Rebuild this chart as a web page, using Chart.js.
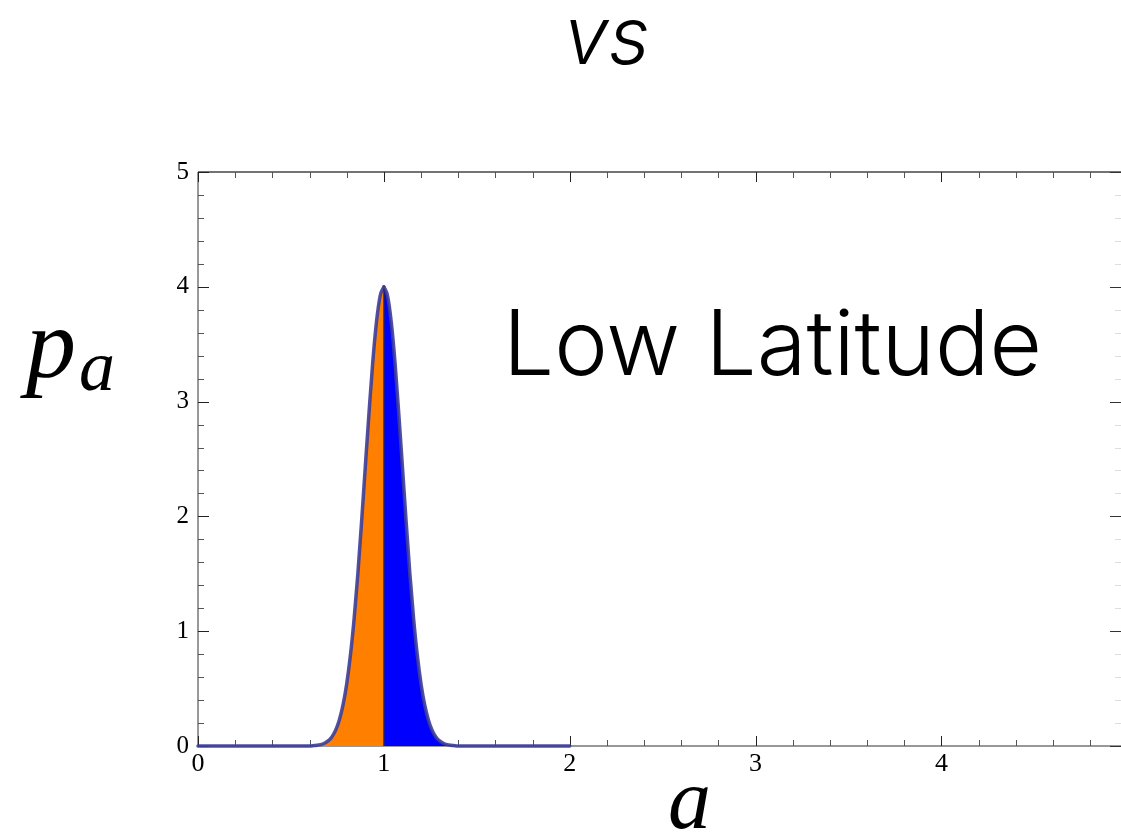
<!DOCTYPE html>
<html>
<head>
<meta charset="utf-8">
<script src="https://cdn.jsdelivr.net/npm/chart.js@4.4.0/dist/chart.umd.min.js"></script>
<style>
  html, body { margin: 0; padding: 0; background: #fff; }
  #wrap { width: 1121px; height: 834px; position: relative; }
</style>
</head>
<body>
<div id="wrap"><canvas id="c" width="1121" height="834"></canvas></div>
<script>
// ---- data ----
const aValues = [0.00, 0.50, 0.60, 0.62, 0.64, 0.66, 0.68, 0.70, 0.72, 0.74, 0.76, 0.78, 0.80,
                 0.82, 0.84, 0.86, 0.88, 0.90, 0.92, 0.94, 0.96, 0.98, 1.00,
                 1.02, 1.04, 1.06, 1.08, 1.10, 1.12, 1.14, 1.16, 1.18, 1.20,
                 1.22, 1.24, 1.26, 1.28, 1.30, 1.32, 1.34, 1.36, 1.38, 1.40, 1.50, 2.00];
const pValues = [0.000, 0.000, 0.001, 0.003, 0.006, 0.012, 0.024, 0.044, 0.079, 0.136, 0.225, 0.356, 0.541,
                 0.79, 1.11, 1.50, 1.95, 2.43, 2.90, 3.34, 3.69, 3.92, 4.00,
                 3.92, 3.69, 3.34, 2.90, 2.43, 1.95, 1.50, 1.11, 0.79, 0.541,
                 0.356, 0.225, 0.136, 0.079, 0.044, 0.024, 0.012, 0.006, 0.003, 0.001, 0.000, 0.000];
const splitAt = 1.0;
const xTickLabels = ['0', '1', '2', '3', '4'];
const yTickLabels = ['0', '1', '2', '3', '4', '5'];
const titleText = 'vs';
const annotationText = 'Low Latitude';
const xAxisTitle = 'a';
const yAxisTitleMain = 'p';
const yAxisTitleSub = 'a';

const leftPts = [], rightPts = [];
aValues.forEach((a, i) => {
  if (a <= splitAt) leftPts.push({x: a, y: pValues[i]});
  if (a >= splitAt) rightPts.push({x: a, y: pValues[i]});
});
const peakAtSplit = pValues[aValues.indexOf(splitAt)];

const LINE = 'rgba(61,61,153,0.9)';

const decor = {
  id: 'decor',
  beforeDatasetsDraw(chart) {
    const {ctx, chartArea: ca, scales: {x, y}} = chart;
    ctx.save();
    ctx.strokeStyle = '#444';
    ctx.lineWidth = 1.5;
    ctx.beginPath();
    ctx.moveTo(ca.left, ca.top); ctx.lineTo(ca.right + 3, ca.top);
    ctx.stroke();
    ctx.strokeStyle = '#777';
    ctx.beginPath();
    ctx.moveTo(ca.left, ca.bottom); ctx.lineTo(ca.right + 3, ca.bottom);
    ctx.moveTo(ca.left, ca.bottom); ctx.lineTo(ca.left, ca.top);
    ctx.stroke();
    ctx.lineWidth = 1;
    for (let k = 0; k <= 25; k++) {
      const v = k * 0.2;
      if (v > x.max + 1e-9) break;
      const px = Math.round(x.getPixelForValue(v)) + 0.5;
      const major = k % 5 === 0;
      const len = major ? 10 : 6;
      ctx.strokeStyle = major ? '#222' : '#555';
      ctx.beginPath();
      ctx.moveTo(px, ca.bottom); ctx.lineTo(px, ca.bottom - len);
      ctx.moveTo(px, ca.top); ctx.lineTo(px, ca.top + len);
      ctx.stroke();
    }
    for (let k = 0; k <= 25; k++) {
      const v = k * 0.2;
      const py = Math.round(y.getPixelForValue(v)) + 0.5;
      const major = k % 5 === 0;
      const len = major ? 11 : 6;
      ctx.strokeStyle = major ? '#222' : '#555';
      ctx.beginPath();
      ctx.moveTo(ca.left, py); ctx.lineTo(ca.left + len, py);
      ctx.stroke();
      ctx.strokeStyle = major ? '#333' : '#ddd';
      ctx.beginPath();
      ctx.moveTo(ca.right + 3, py); ctx.lineTo(ca.right + 3 - len, py);
      ctx.stroke();
    }
    ctx.restore();
  },
  afterDatasetsDraw(chart) {
    const {ctx, scales: {x, y}} = chart;
    ctx.save();
    const px = x.getPixelForValue(splitAt);
    ctx.strokeStyle = 'rgba(50,40,60,0.85)';
    ctx.lineWidth = 1.6;
    ctx.beginPath();
    ctx.moveTo(px, y.getPixelForValue(0));
    ctx.lineTo(px, y.getPixelForValue(peakAtSplit) + 2);
    ctx.stroke();
    ctx.restore();
  },
  afterDraw(chart) {
    const {ctx} = chart;
    ctx.save();
    ctx.fillStyle = '#000';
    ctx.textBaseline = 'alphabetic';
    const sans = '"Helvetica Neue", Inter, "Open Sans", "Liberation Sans", sans-serif';
    ctx.font = `italic 300 90px ${sans}`;
    let w = ctx.measureText(titleText).width;
    ctx.font = `italic 300 ${Math.round(90 * 86 / w)}px ${sans}`;
    ctx.textAlign = 'center';
    ctx.fillText(titleText, 607, 64);
    ctx.textAlign = 'left';
    ctx.font = `300 98px ${sans}`;
    w = ctx.measureText(annotationText).width;
    const fs = 98 * 539 / w;
    ctx.font = `300 ${fs.toFixed(1)}px ${sans}`;
    ctx.fillText(annotationText, 503, 375);
    ctx.font = 'italic 100px "Liberation Serif", "DejaVu Serif", serif';
    ctx.fillText(yAxisTitleMain, 26, 377);
    ctx.font = 'italic 72px "Liberation Serif", "DejaVu Serif", serif';
    ctx.fillText(yAxisTitleSub, 79, 390);
    ctx.font = 'italic 86px "Liberation Serif", "DejaVu Serif", serif';
    ctx.fillText(xAxisTitle, 668, 828);
    ctx.restore();
  }
};

new Chart(document.getElementById('c'), {
  type: 'line',
  data: {
    datasets: [
      {
        data: leftPts,
        borderColor: LINE,
        borderWidth: 3.5,
        backgroundColor: '#ff8000',
        fill: 'origin',
        pointRadius: 0,
        clip: false,
        cubicInterpolationMode: 'monotone'
      },
      {
        data: rightPts,
        borderColor: LINE,
        borderWidth: 3.5,
        backgroundColor: '#0000ff',
        fill: 'origin',
        pointRadius: 0,
        clip: false,
        cubicInterpolationMode: 'monotone'
      }
    ]
  },
  options: {
    responsive: false,
    animation: false,
    devicePixelRatio: 1,
    layout: { padding: { left: 158, top: 172, right: 3, bottom: 48 } },
    plugins: { legend: { display: false }, tooltip: { enabled: false }, title: { display: false } },
    elements: { line: { borderCapStyle: 'round', borderJoinStyle: 'round' } },
    scales: {
      x: {
        type: 'linear',
        min: 0,
        max: 4.95,
        grid: { display: false, drawTicks: false },
        border: { display: false },
        afterFit(s) { s.height = 40; },
        afterBuildTicks(s) { s.ticks = xTickLabels.map(t => ({value: Number(t)})); },
        ticks: {
          padding: 3,
          maxRotation: 0,
          autoSkip: false,
          color: '#000',
          font: { family: '"Liberation Serif", "Times New Roman", serif', size: 26 },
          callback: (v) => xTickLabels.includes(String(v)) ? String(v) : ''
        }
      },
      y: {
        type: 'linear',
        min: 0,
        max: 5,
        grid: { display: false, drawTicks: false },
        border: { display: false },
        afterFit(s) { s.width = 40; },
        afterBuildTicks(s) { s.ticks = yTickLabels.map(t => ({value: Number(t)})); },
        ticks: {
          padding: 9,
          autoSkip: false,
          color: '#000',
          font: { family: '"Liberation Serif", "Times New Roman", serif', size: 25 },
          callback: (v) => yTickLabels.includes(String(v)) ? String(v) : ''
        }
      }
    }
  },
  plugins: [decor]
});
</script>
</body>
</html>
